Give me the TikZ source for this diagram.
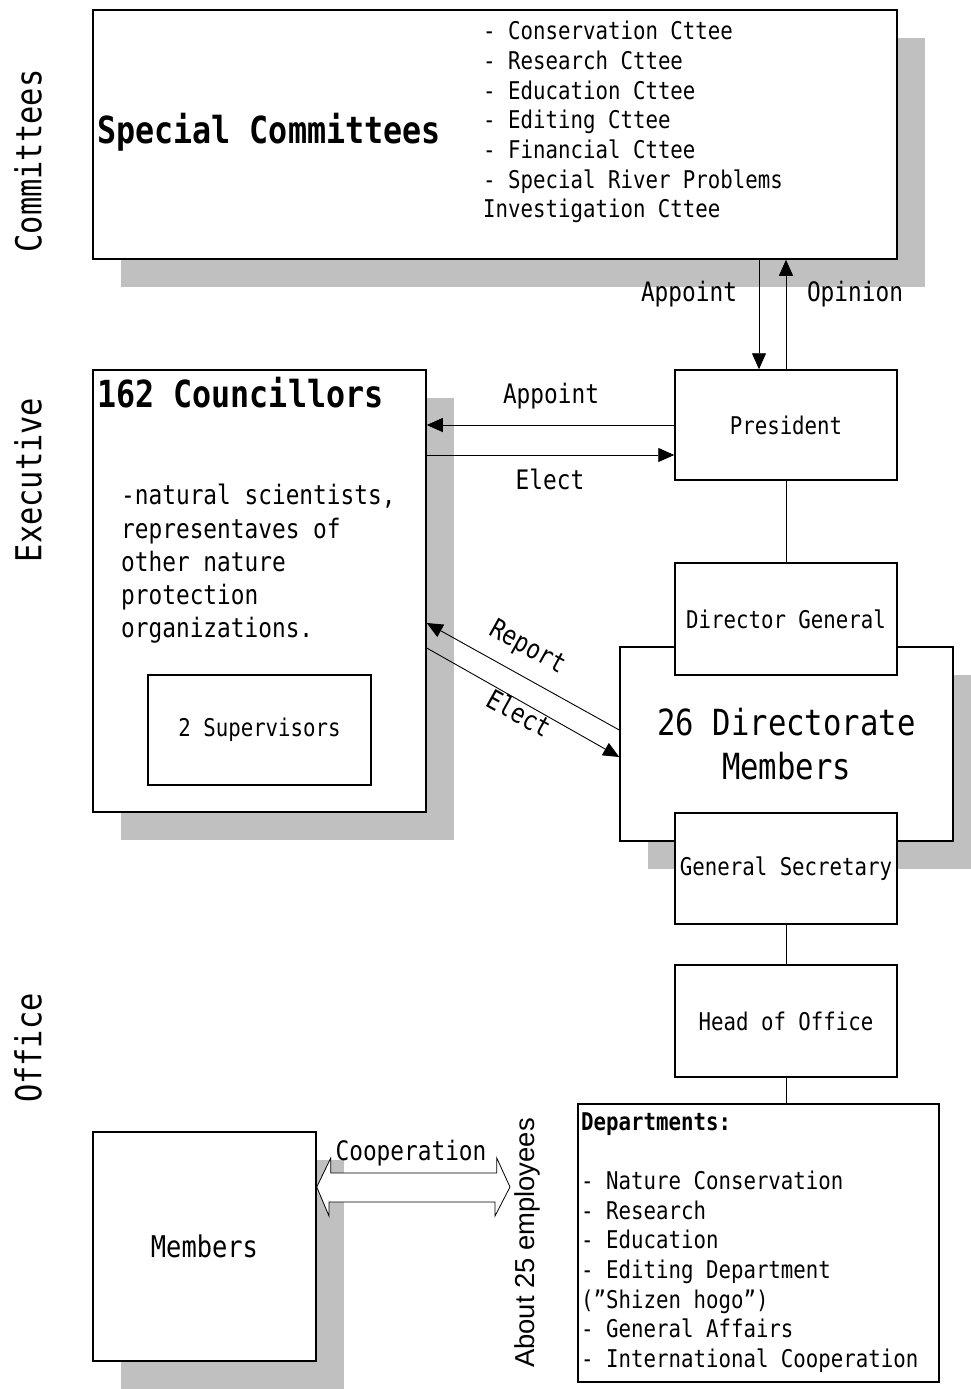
\documentclass[tikz,border=0pt]{standalone}
\usepackage{fontspec}
\setmainfont{DejaVu Sans Mono}[FakeStretch=0.85]
\newfontfamily\plainsans{Liberation Sans}
\usetikzlibrary{positioning,arrows.meta,shadows}
\definecolor{shadegray}{RGB}{192,192,192}

\begin{document}
\begin{tikzpicture}[x=1pt,y=-1pt,
    org box/.style={draw,line width=1.5pt,fill=white,inner sep=0pt},
    shade box/.style={drop shadow={shadow xshift=28pt,shadow yshift=-28pt,fill=shadegray,opacity=1}},
    flow/.style={line width=0.9pt,-{Triangle[length=16pt,width=14pt]}},
    link/.style={line width=0.9pt},
    fs/.style={font=\fontsize{24.4}{29.7}\selectfont},
    fm/.style={font=\fontsize{26.8}{33.3}\selectfont},
    fl/.style={font=\fontsize{36}{44}\selectfont},
    flb/.style={font=\fontsize{37.3}{44}\selectfont\bfseries},
    side label/.style={font=\fontsize{35.7}{40}\selectfont,rotate=90}
  ]
  \useasboundingbox (0,0) rectangle (971,1389);
  \clip (0,0) rectangle (971,1389);

  % committees
  \node[org box,shade box,minimum width=804pt,minimum height=249pt] (sc) at (495,134.5) {};
  \node[flb,anchor=west,inner sep=0pt] (sctitle) at (97,132) {Special Committees};
  \node[fs,anchor=north west,align=left,inner sep=0pt] (sclist) at (483,21)
    {- Conservation Cttee\\- Research Cttee\\- Education Cttee\\- Editing Cttee\\%
     - Financial Cttee\\- Special River Problems\\Investigation Cttee};

  % executive
  \node[org box,fs,minimum width=222pt,minimum height=110pt] (pres) at (786,425) {President};
  \node[org box,shade box,minimum width=333pt,minimum height=442pt] (coun) at (259.5,591) {};
  \node[flb,anchor=west,inner sep=0pt] (countitle) at (97,393) {162 Councillors};
  \node[fm,anchor=north west,align=left,inner sep=0pt] (counlist) at (121,484)
    {-natural scientists,\\representaves of\\other nature\\protection\\organizations.};
  \node[org box,fs,minimum width=223pt,minimum height=110pt] (sup) at (259.5,730) {2 Supervisors};

  \node[org box,shade box,fl,align=center,minimum width=333pt,minimum height=194pt] (dir) at (786.5,744)
    {26 Directorate\\Members};
  \node[org box,fs,minimum width=222pt,minimum height=112pt] (dg) at (786,619) {Director General};
  \node[org box,fs,minimum width=222pt,minimum height=111pt] (gs) at (786,868.5) {General Secretary};

  % office
  \node[org box,fs,minimum width=222pt,minimum height=112pt] (head) at (786,1021) {Head of Office};
  \node[org box,minimum width=361pt,minimum height=278pt] (dept) at (758.5,1243) {};
  \node[fs,anchor=north west,align=left,inner sep=0pt] (deptlist) at (581,1112)
    {\textbf{Departments:}\\[29.7pt]- Nature Conservation\\- Research\\- Education\\%
     - Editing Department\\(”Shizen hogo”)\\- General Affairs\\- International Cooperation};
  \node[org box,shade box,font=\fontsize{29.9}{34}\selectfont,minimum width=223pt,minimum height=229pt] (mem) at (204.5,1246.5) {Members};
  \node[rotate=90,font=\plainsans\fontsize{27.4}{30}\selectfont] (staff) at (527,1243) {About 25 employees};

  % side labels
  \node[side label] (lblcom) at (28,161) {Committees};
  \node[side label] (lblexe) at (28,480) {Executive};
  \node[side label] (lbloff) at (28,1048) {Office};

  % connectors
  \coordinate (apt) at ([xshift=-27pt]pres.north);
  \draw[flow] (apt |- sc.south) -- (apt);
  \draw[flow] (pres.north) -- (pres.north |- sc.south);
  \node[fm] (lblappa) at (689,294) {Appoint};
  \node[fm] (lblopin) at (855,294) {Opinion};

  \draw[flow] (pres.west) -- (pres.west -| coun.east);
  \coordinate (ela) at ([yshift=-30pt]pres.west);
  \draw[flow] (ela -| coun.east) -- (ela);
  \node[fm] (lblappb) at (551,396) {Appoint};
  \node[fm] (lblela) at (550,479) {Elect};

  \coordinate (rpa) at ([yshift=14pt]dir.west);
  \coordinate (rpb) at ([yshift=-32pt]coun.east);
  \coordinate (elb) at ([yshift=-57pt]coun.east);
  \coordinate (elc) at ([yshift=-13pt]dir.west);
  \draw[flow] (rpa) -- (rpb);
  \draw[flow] (elb) -- (elc);
  \node[fm,rotate=-29] (lblrep) at (527,648) {Report};
  \node[fm,rotate=-29] (lblelb) at (519,713) {Elect};

  \draw[link] (pres.south) -- (dg.north);
  \draw[link] (gs.south) -- (head.north);
  \draw[link] (head.south) -- (head.south |- dept.north);

  % cooperation
  \coordinate (coopr) at (510,1187);
  \coordinate (coopl) at (mem.east |- coopr);
  \draw[line width=0.8pt,fill=white] (coopl) -- ++(14,-29) -- ++(0,15) -- ++(166,0) -- ++(0,-15)
    -- (coopr) -- ++(-15,29) -- ++(0,-14) -- ++(-166,0) -- ++(0,14) -- cycle;
  \node[fm] (lblcoop) at (411,1153) {Cooperation};
\end{tikzpicture}
\end{document}
